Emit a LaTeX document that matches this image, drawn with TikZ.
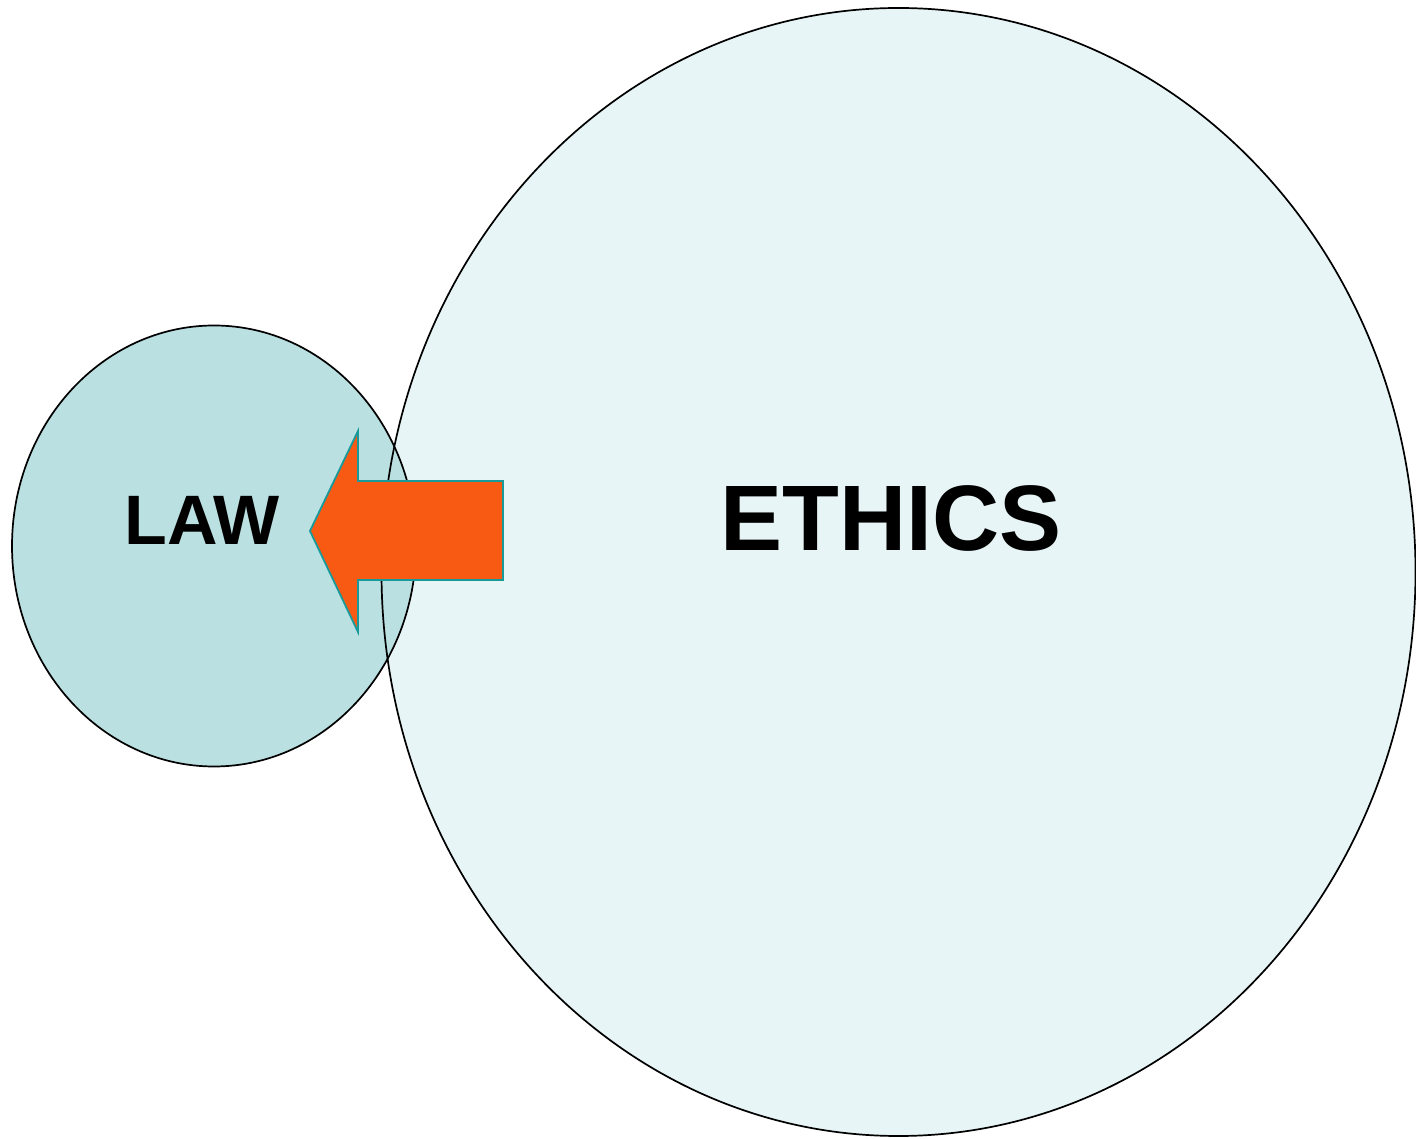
\documentclass[tikz,border=0pt]{standalone}
\usepackage{fontspec}
\setmainfont{Liberation Sans}
\usetikzlibrary{shapes.geometric}
\definecolor{lawfill}{RGB}{186,224,226}
\definecolor{ethfill}{RGB}{232,245,246}
\definecolor{arrowfill}{RGB}{248,90,20}
\definecolor{arrowline}{RGB}{24,154,154}
\tikzset{
  bubble/.style={ellipse, inner sep=0pt, line width=1.7pt},
  lbl/.style={font=\bfseries, text=black, inner sep=0pt},
}
\begin{document}
\begin{tikzpicture}[x=1pt,y=1pt]
\useasboundingbox (0,0) rectangle (1416,1138);
% ethics fill
\node[bubble, fill=ethfill, minimum width=1034pt, minimum height=1128pt] (ethfillnode) at (898.5,566) {};
% law circle
\node[bubble, draw=black, fill=lawfill, minimum width=404pt, minimum height=441pt] (law) at (214,592) {};
% ethics outline
\node[bubble, draw=black, minimum width=1034pt, minimum height=1128pt] (ethics) at (898.5,566) {};
% arrow
\draw[fill=arrowfill, draw=arrowline, line width=1.8pt, line join=miter]
  (310,607) -- (358,707) -- (358,657) -- (503,657) -- (503,558) -- (358,558) -- (358,506) -- cycle;
% labels
\node[lbl, font=\fontsize{70}{76}\selectfont\bfseries] (lawlbl) at (202,618) {LAW};
\node[lbl, font=\fontsize{93}{98}\selectfont\bfseries] (ethlbl) at (891,619.5) {ETHICS};
\end{tikzpicture}
\end{document}
